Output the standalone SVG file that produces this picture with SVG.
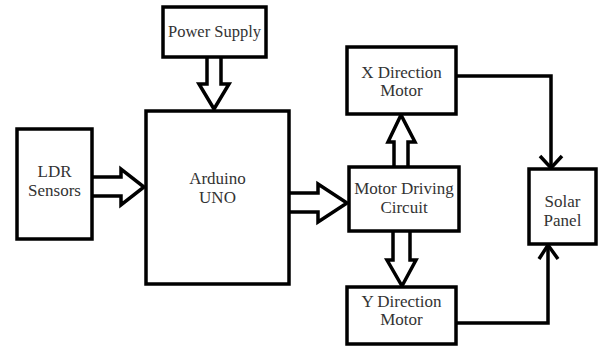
<svg xmlns="http://www.w3.org/2000/svg" width="598" height="349" viewBox="0 0 598 349">
<style>
.box{fill:#fff;stroke:#000;stroke-width:3.5}
.blk{fill:#fff;stroke:#000;stroke-width:3.5;stroke-linejoin:miter}
.ln{fill:none;stroke:#000;stroke-width:3.5}
.hd{fill:none;stroke:#000;stroke-width:3.5;stroke-linejoin:miter}
.t{font-family:'Liberation Serif','Times New Roman','DejaVu Serif',serif;font-size:17px;fill:#333;text-anchor:middle}
</style>
<rect width="598" height="349" fill="#fff"/>
<g id="connectors">
<path class="blk" d="M207,57 L207,84 L199,84 L214,109 L229,84 L221,84 L221,57"/>
<path class="blk" d="M92,177 L121,177 L121,169 L144,187 L121,205 L121,196 L92,196"/>
<path class="blk" d="M289,193 L318,193 L318,184 L347,203 L318,222 L318,212 L289,212"/>
<path class="blk" d="M394,167 L394,142 L388,142 L401,115 L415,142 L408,142 L408,167"/>
<path class="blk" d="M393,231 L393,260 L387,260 L402,286 L416,260 L410,260 L410,231"/>
<path class="ln" d="M456,76 H551 V168"/>
<path class="hd" d="M540,156 L551,168 L562,156"/>
<path class="ln" d="M456,323 H548 V245"/>
<path class="hd" d="M539,259 L548,245 L558,259"/>
</g>
<g id="power"><rect class="box" x="163" y="7" width="103" height="50"/><text class="t" x="214.5" y="37" style="font-size:16.5px">Power Supply</text></g>
<g id="arduino"><rect class="box" x="146" y="111" width="143" height="173"/><text class="t" x="217.5" y="184">Arduino</text><text class="t" x="217.5" y="203">UNO</text></g>
<g id="ldr"><rect class="box" x="17" y="129" width="75" height="110"/><text class="t" x="54.5" y="177">LDR</text><text class="t" x="54.5" y="196">Sensors</text></g>
<g id="xmotor"><rect class="box" x="347" y="47" width="109" height="67"/><text class="t" x="401.5" y="78">X Direction</text><text class="t" x="401.5" y="96">Motor</text></g>
<g id="driver"><rect class="box" x="349" y="167" width="110" height="64"/><text class="t" x="404" y="194">Motor Driving</text><text class="t" x="404" y="213">Circuit</text></g>
<g id="ymotor"><rect class="box" x="347" y="287" width="109" height="57"/><text class="t" x="401.5" y="307">Y Direction</text><text class="t" x="401.5" y="325">Motor</text></g>
<g id="solar"><rect class="box" x="529" y="169" width="67" height="75"/><text class="t" x="562.5" y="207">Solar</text><text class="t" x="562.5" y="226">Panel</text></g>
</svg>
